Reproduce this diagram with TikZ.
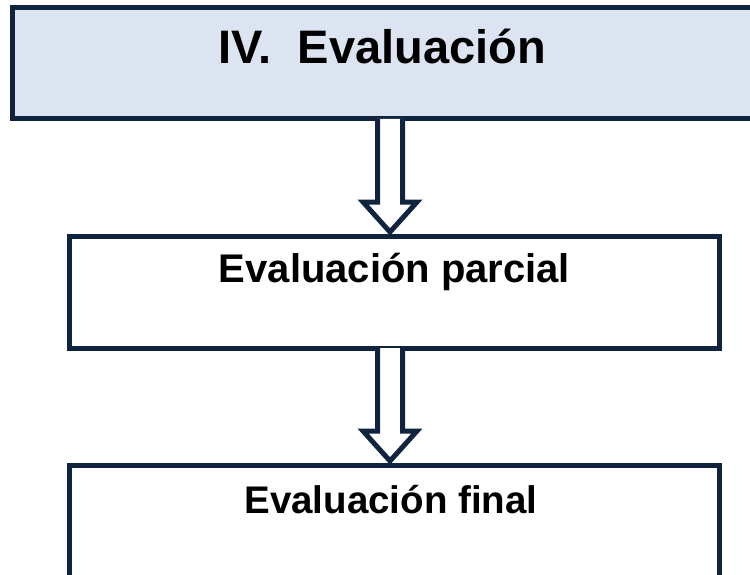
\documentclass[tikz,border=0pt]{standalone}
\usepackage{fontspec}
\setmainfont{Liberation Sans}
\usepackage{tikz}
\usetikzlibrary{positioning,calc}
\definecolor{marino}{RGB}{16,36,64}
\definecolor{celeste}{RGB}{219,228,240}
\tikzset{caja/.style={draw=marino, line width=5pt, rectangle, anchor=north west, outer sep=0pt, inner xsep=0pt, inner ysep=0pt, minimum height=111.5pt, font=\bfseries},
	flecha/.style={draw=marino, line width=5pt, fill=white, line join=miter}}
\begin{document}
\begin{tikzpicture}[x=1pt,y=-1pt]
			\useasboundingbox (0,0) rectangle (750,575);
			\node[caja, fill=celeste, minimum width=739.5pt, text height=56.5pt, text depth=55pt, font=\bfseries\fontsize{47}{50}\selectfont] (titulo) at (12.5,7.5) {IV.\ \ Evaluación};
			\node[caja, minimum width=650pt, text height=45.5pt, text depth=66pt, font=\bfseries\fontsize{40}{42}\selectfont] (parcial) at (69.5,236.5) {Evaluación parcial};
			\node[caja, minimum width=650pt, text height=47.8pt, text depth=63.7pt, font=\bfseries\fontsize{38.5}{42}\selectfont] (final) at (69.5,465.5) {Evaluación final\kern7pt};
			% flechas huecas entre las cajas
			\path (titulo.south -| 390,0) coordinate (t1) (parcial.north -| 390,0) coordinate (h1)
				(parcial.south -| 390,0) coordinate (t2) (final.north -| 390,0) coordinate (h2);
			\draw[flecha] ($(t1)+(-12.5,0)$) -- ($(h1)+(-12.5,-34.5)$) -- ($(h1)+(-27,-34.5)$) -- ($(h1)+(0,-4.5)$)
				-- ($(h1)+(27,-34.5)$) -- ($(h1)+(12.5,-34.5)$) -- ($(t1)+(12.5,0)$);
			\draw[flecha] ($(t2)+(-12.5,0)$) -- ($(h2)+(-12.5,-34.5)$) -- ($(h2)+(-27,-34.5)$) -- ($(h2)+(0,-4.5)$)
				-- ($(h2)+(27,-34.5)$) -- ($(h2)+(12.5,-34.5)$) -- ($(t2)+(12.5,0)$);
		\end{tikzpicture}
\end{document}
